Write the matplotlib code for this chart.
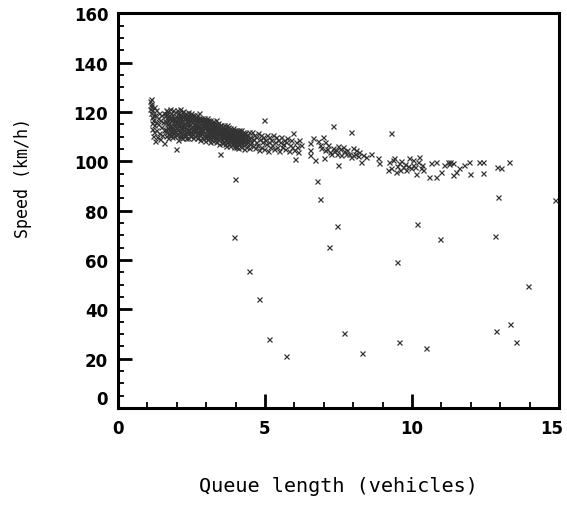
import numpy as np
import matplotlib.pyplot as plt
import matplotlib.transforms as mtransforms

head = [(1.08,121.3),(1.10,124.2),(1.12,125.1),(1.12,122.4),(1.13,119.7),(1.14,123.1),(1.15,117.8),
        (1.15,115.6),(1.16,120.9),(1.17,113.2),(1.18,118.6),(1.19,110.4),(1.20,116.7),(1.21,121.8),
        (1.22,114.6),(1.24,111.8),(1.25,118.9),(1.26,108.3),(1.28,115.7),(1.30,120.6),(1.31,112.8),
        (1.33,109.7),(1.35,117.6),(1.36,114.9),(1.38,119.7),(1.40,111.6),(1.42,116.8),(1.44,108.9),
        (1.45,113.7),(1.47,118.8),(1.50,110.8),(1.52,115.7),(1.55,107.5),(1.55,119.6),(1.57,112.7)]

band1 = [(1.60,118.4),(1.61,113.2),(1.62,120.6),(1.63,110.3),(1.64,115.8),(1.65,119.1),(1.66,111.7),
         (1.67,114.9),(1.68,120.2),(1.69,109.4),(1.70,116.8),(1.71,113.6),(1.72,111.2),(1.73,118.7),
         (1.74,115.5),(1.75,112.8),(1.76,121.3),(1.77,110.6),(1.78,117.9),(1.79,114.4),(1.80,112.1),
         (1.81,119.6),(1.82,116.6),(1.83,113.9),(1.84,109.8),(1.85,118.9),(1.86,115.9),(1.87,111.4),
         (1.88,120.8),(1.89,112.7),(1.90,117.5),(1.91,114.7),(1.92,110.2),(1.93,119.8),(1.94,116.3),
         (1.95,112.4),(1.96,104.8),(1.97,118.5),(1.98,113.7),(1.99,115.6),(2.00,120.9),(2.01,111.1),
         (2.02,117.7),(2.03,112.9),(2.04,119.7),(2.05,108.5),(2.06,115.7),(2.07,118.8),(2.08,111.8),
         (2.09,114.6),(2.10,121.2),(2.11,109.9),(2.12,116.9),(2.13,113.5),(2.14,118.6),(2.15,111.6),
         (2.16,116.1),(2.17,119.9),(2.18,109.3),(2.19,114.8),(2.20,117.8),(2.21,112.6),(2.22,120.5),
         (2.23,110.8),(2.24,117.2),(2.25,113.8),(2.26,118.9),(2.27,110.1),(2.28,115.4),(2.29,119.5),
         (2.30,111.9),(2.31,117.6),(2.32,114.5),(2.33,109.2),(2.34,118.7),(2.35,112.5),(2.36,116.7),
         (2.37,111.3),(2.38,119.9),(2.39,109.2),(2.40,115.6),(2.41,117.9),(2.42,112.8),(2.43,114.6),
         (2.44,118.4),(2.45,110.4),(2.46,116.5),(2.47,111.7),(2.48,119.6),(2.49,113.8),(2.50,117.5),
         (2.51,110.9),(2.52,115.8),(2.53,118.6),(2.54,112.9),(2.55,109.4),(2.56,116.9),(2.57,114.7),
         (2.58,117.6),(2.59,111.8),
         (1.615,116.2),(1.645,112.6),(1.675,118.1),(1.705,110.9),(1.735,114.1),(1.765,117.3),
         (1.795,110.5),(1.825,113.1),(1.855,116.9),(1.885,111.9),(1.915,117.1),(1.945,114.2),
         (1.975,110.7),(2.005,116.4),(2.035,114.3),(2.065,112.2),(2.095,117.3),(2.125,110.6),
         (2.155,114.1),(2.185,118.2),(2.215,115.2),(2.245,111.5),(2.275,117.6),(2.305,113.4),
         (2.335,115.9),(2.365,118.1),(2.395,112.2),(2.425,116.8),(2.455,113.3),(2.485,110.6),
         (2.515,114.2),(2.545,117.1),(2.575,112.1)]

band2 = [(2.60,118.7),(2.61,110.4),(2.62,115.7),(2.63,112.6),(2.64,117.8),(2.65,111.2),(2.66,114.6),
         (2.67,116.9),(2.68,109.3),(2.69,113.9),(2.70,118.6),(2.71,111.8),(2.72,115.9),(2.73,109.8),
         (2.74,117.5),(2.75,112.8),(2.76,114.7),(2.77,119.4),(2.78,110.7),(2.79,116.6),(2.80,108.4),
         (2.81,113.6),(2.82,115.8),(2.83,111.6),(2.84,117.7),(2.85,109.6),(2.86,114.8),(2.87,112.7),
         (2.88,116.6),(2.89,108.9),(2.90,115.5),(2.91,110.8),(2.92,113.8),(2.93,117.6),(2.94,111.7),
         (2.95,114.5),(2.96,108.3),(2.97,116.7),(2.98,112.6),(2.99,109.7),(3.00,115.6),(3.01,113.7),
         (3.02,117.4),(3.03,110.9),(3.04,114.6),(3.05,108.8),(3.06,112.7),(3.07,116.5),(3.08,111.6),
         (3.09,109.6),(3.10,115.7),(3.11,113.5),(3.12,107.9),(3.13,114.8),(3.14,116.6),(3.15,110.7),
         (3.16,112.8),(3.17,108.9),(3.18,115.6),(3.19,111.7),(3.20,113.6),(3.21,109.8),(3.22,116.4),
         (3.23,112.6),(3.24,108.2),(3.25,114.7),(3.26,110.8),(3.27,113.7),(3.28,115.8),(3.29,108.8),
         (3.30,111.7),(3.31,114.6),(3.32,109.9),(3.33,112.8),(3.34,116.5),(3.35,107.8),(3.36,113.6),
         (3.37,110.8),(3.38,114.7),(3.39,111.6),(3.40,108.9),(3.41,115.6),(3.42,112.7),(3.43,109.8),
         (3.44,113.7),(3.45,107.1),(3.46,111.8),(3.47,103.1),(3.48,114.6),(3.49,110.6),
         (2.615,113.1),(2.645,115.2),(2.675,111.3),(2.705,114.2),(2.735,116.8),(2.765,111.9),
         (2.795,113.4),(2.825,117.1),(2.855,112.2),(2.885,114.1),(2.915,116.2),(2.945,109.9),
         (2.975,114.4),(3.005,111.2),(3.035,116.1),(3.065,110.3),(3.095,113.1),(3.125,111.2),
         (3.155,114.1),(3.185,110.1),(3.215,115.1),(3.245,112.1),(3.275,110.2),(3.305,113.2),
         (3.335,111.1),(3.365,115.2),(3.395,109.1),(3.425,114.2),(3.455,110.1),(3.485,112.3)]

band3 = [(3.50,112.8),(3.51,108.9),(3.52,114.7),(3.53,110.8),(3.54,107.2),(3.55,112.6),(3.56,109.7),
         (3.57,113.8),(3.58,107.9),(3.59,111.6),(3.60,114.6),(3.61,109.8),(3.62,112.7),(3.63,106.9),
         (3.64,110.6),(3.65,113.6),(3.66,108.8),(3.67,111.7),(3.68,106.3),(3.69,112.8),(3.70,109.6),
         (3.71,114.5),(3.72,107.7),(3.73,111.8),(3.74,110.7),(3.75,113.7),(3.76,106.8),(3.77,109.7),
         (3.78,112.6),(3.79,108.7),(3.80,111.6),(3.81,106.2),(3.82,113.6),(3.83,109.8),(3.84,107.8),
         (3.85,111.8),(3.86,110.6),(3.87,112.7),(3.88,106.9),(3.89,108.8),(3.90,111.7),(3.91,109.6),
         (3.92,113.6),(3.93,105.9),(3.94,110.8),(3.95,107.7),(3.96,112.6),(3.97,108.8),(3.98,110.7),
         (3.99,106.8),(4.00,111.6),(4.01,109.7),(4.02,112.8),(4.03,105.8),(4.04,108.7),(4.05,110.6),
         (4.06,107.8),(4.07,111.7),(4.08,109.6),(4.09,105.2),(4.10,112.6),(4.11,108.8),(4.12,110.7),
         (4.13,106.8),(4.14,109.7),(4.15,111.8),(4.16,107.7),(4.17,105.9),(4.18,110.6),(4.19,108.7),
         (4.20,112.7),(4.21,106.8),(4.22,109.6),(4.24,111.8),(4.25,107.6),(4.27,105.1),(4.28,110.8),
         (4.30,108.7),(4.32,106.8),(4.33,111.6),(4.35,109.8),(4.37,105.9),(4.38,107.8),(4.40,110.7),
         (4.42,108.8),(4.44,105.3),(4.46,111.7),(4.48,106.8),
         (3.515,111.9),(3.545,109.8),(3.575,111.1),(3.605,108.2),(3.635,112.2),(3.665,110.1),
         (3.695,108.1),(3.725,110.2),(3.755,112.0),(3.785,110.9),(3.815,108.6),(3.845,110.1),
         (3.875,109.1),(3.905,107.4),(3.935,112.2),(3.965,110.0),(3.995,109.1),(4.025,107.2),
         (4.055,112.1),(4.085,110.2),(4.115,106.9),(4.145,108.3),(4.175,110.1),(4.205,109.1),
         (4.235,108.4),(4.265,109.9),(4.295,111.4),(4.345,107.3),(4.395,108.9),(4.455,109.4)]

band4 = [(4.50,109.6),(4.53,107.8),(4.55,111.7),(4.58,106.2),(4.60,108.9),(4.63,110.8),(4.66,105.3),
         (4.68,107.6),(4.71,109.8),(4.74,106.7),(4.76,111.6),(4.79,104.5),(4.82,108.8),(4.85,110.7),
         (4.88,105.8),(4.90,107.7),(4.93,109.7),(4.96,116.7),(4.98,104.9),(5.01,108.6),(5.04,106.8),
         (5.07,110.6),(5.10,104.2),(5.12,107.7),(5.15,109.8),(5.18,105.7),(5.21,108.7),(5.24,106.6),
         (5.27,110.5),(5.30,104.8),(5.33,107.6),(5.36,109.7),(5.40,105.8),(5.43,108.6),(5.46,104.1),
         (5.50,107.8),(5.53,109.6),(5.57,105.7),(5.60,106.8),(5.64,108.7),(5.68,104.8),(5.72,107.7),
         (5.76,109.5),(5.80,104.2),(5.84,106.7),(5.88,108.6),(5.92,105.8),(5.95,111.5),(5.98,104.7),
         (6.01,100.8),(6.04,107.6),(6.08,105.7),(6.12,103.9),(6.16,108.7)]

tail = [(6.24,106.5),(6.52,107.2),(6.52,104.5),(6.63,109.2),(6.52,102.5),(6.69,100.4),(6.86,106.5),
        (6.97,110.0),(7.03,107.9),(7.00,101.4),(7.20,103.8),(7.42,104.5),(7.45,103.0),(7.65,105.9),
        (7.59,102.5),(7.87,103.1),(7.92,101.8),(7.99,105.2),(8.21,103.8),(8.27,99.8),(8.61,103.1),
        (8.83,101.1),(8.89,99.1),(7.31,114.4),(7.93,112.0),(9.29,111.3),(7.48,98.4),
        (7.10,105.0),(7.15,106.5),(7.30,105.5),(7.35,104.0),(7.50,106.0),(7.55,104.8),(7.70,104.0),
        (7.75,103.0),(7.80,104.5),(8.05,103.0),(8.10,104.5),(8.15,102.0),(8.35,102.5),(8.45,101.5),
        (6.80,108.0),(6.90,105.5),(7.05,104.5),(7.25,102.8),(8.00,102.3),
        (9.17,96.4),(9.23,99.8),(9.29,97.1),(9.40,101.1),(9.46,95.7),(9.57,99.1),(9.68,97.7),
        (9.80,96.4),(9.91,101.1),(10.02,98.4),(10.14,95.0),(10.19,99.8),(10.25,101.8),(10.30,97.1),
        (10.35,98.5),(10.59,93.7),(10.64,99.1),(10.81,99.8),(10.81,93.7),(10.98,95.7),(11.09,98.4),
        (11.21,99.8),(11.25,98.8),(11.30,99.5),(11.38,99.1),(11.40,94.3),(11.49,95.7),(11.60,97.1),
        (11.77,98.4),(11.94,99.8),(11.98,95.0),(12.28,99.5),(12.43,99.8),(12.43,95.4),(12.90,97.7),
        (13.02,97.1),(13.30,99.5),
        (9.35,100.5),(9.50,98.2),(9.62,100.2),(9.75,99.0),(9.85,98.2),(9.95,97.3),(10.05,100.3),
        (10.10,97.8),(10.38,96.5),(9.60,96.5)]

outliers = [(3.99,92.9),(6.77,92.1),(6.86,84.8),(7.44,73.9),(10.17,74.7),(10.96,68.5),
            (12.83,69.7),(12.94,85.6),(14.86,84.2),(3.93,69.3),(7.19,65.1),(9.48,59.0),
            (4.46,55.6),(13.93,49.5),(4.80,44.3),(7.69,30.5),(13.34,34.0),(12.86,31.3),
            (5.14,27.9),(9.57,26.8),(13.54,26.8),(10.48,24.2),(8.29,22.3),(5.72,21.2)]

pts = np.array(head + band1 + band2 + band3 + band4 + tail + outliers)
queue, speed = pts[:, 0], pts[:, 1]

fig = plt.figure(figsize=(5.67, 5.06), dpi=100)
ax = fig.add_axes([0.208, 0.192, 0.778, 0.780])

ax.plot(queue, speed, 'x', color='0.2', ms=3.6, mew=0.9)

ax.set_xlim(0, 15)
ax.set_ylim(0, 160)
ax.set_xticks([0, 5, 10, 15])
ax.set_xticks(np.arange(0, 16, 1), minor=True)
ax.set_yticks(np.arange(0, 161, 20))
ax.set_yticks(np.arange(0, 161, 5), minor=True)

ax.tick_params(which='major', direction='in', length=10, width=2, labelsize=12, pad=8)
ax.tick_params(which='minor', direction='in', length=4.5, width=1.3)
ax.tick_params(axis='y', pad=7)
for s in ax.spines.values():
    s.set_linewidth(2.2)

for lab in ax.get_xticklabels() + ax.get_yticklabels():
    lab.set_fontweight('bold')

# the 0 on the speed axis sits a little higher than its tick, the 15 a little left
lab0 = ax.yaxis.get_major_ticks()[0].label1
lab0.set_transform(lab0.get_transform() +
                   mtransforms.ScaledTranslation(0, 8 / 72, fig.dpi_scale_trans))
lab15 = ax.xaxis.get_major_ticks()[-1].label1
lab15.set_transform(lab15.get_transform() +
                    mtransforms.ScaledTranslation(-5 / 72, 0, fig.dpi_scale_trans))

ax.set_xlabel('Queue length (vehicles)', family='DejaVu Sans Mono', fontsize=14.5, labelpad=28)
ax.set_ylabel('Speed (km/h)', family='DejaVu Sans Mono', fontsize=12)
ax.yaxis.set_label_coords(-0.195, 0.585)

fig.savefig('out.png', dpi=100)
